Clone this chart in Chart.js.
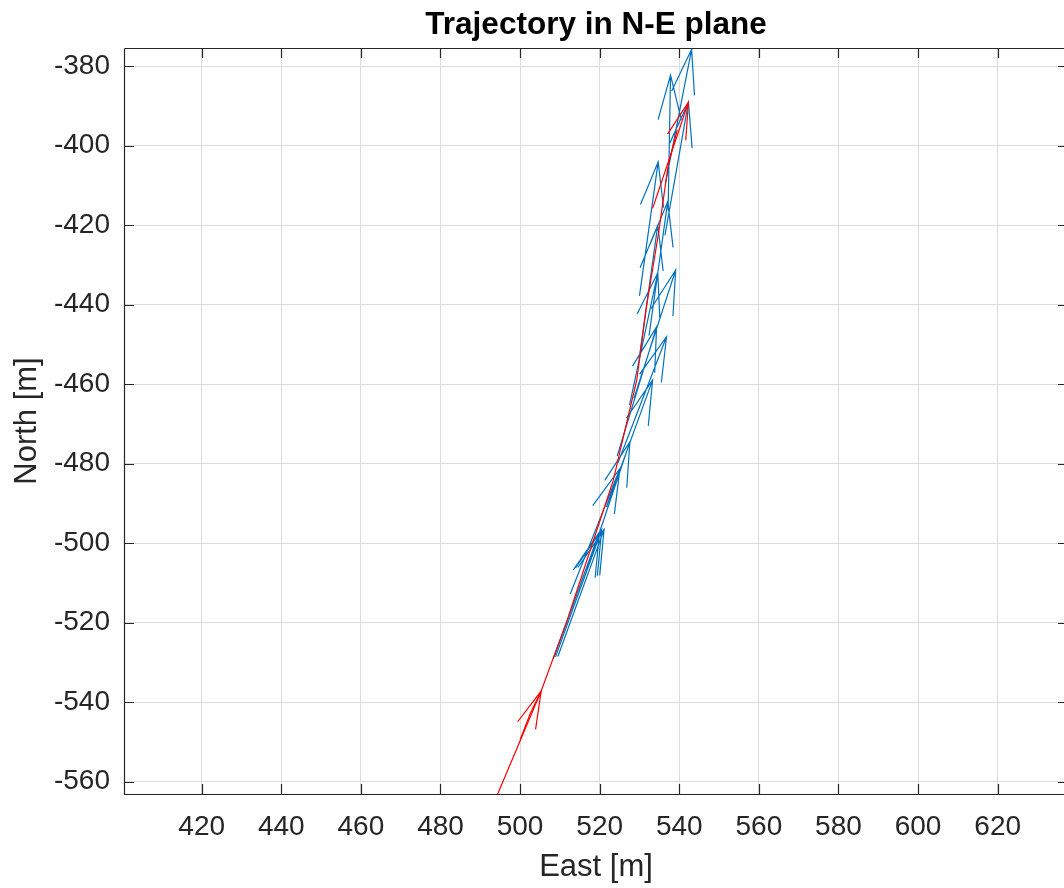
<!DOCTYPE html>
<html>
<head>
<meta charset="utf-8">
<script src="https://cdn.jsdelivr.net/npm/chart.js@4.4.0/dist/chart.umd.min.js"></script>
<style>
html, body { margin: 0; padding: 0; background: #fff; overflow: hidden; }
</style>
</head>
<body>
<canvas id="mycanvas" width="1068" height="888"></canvas>
<script>
// trajectory in the N-E plane (red line)
var trackE = [500.0, 502.5, 505.3, 511.8, 518.4, 523.4, 526.9, 529.3, 531.8, 534.8, 537.2, 539.5];
var trackN = [-549.5, -543.0, -537.2, -519.5, -499.4, -484.3, -469.2, -459.1, -440.2, -422.0, -405.0, -396.0];

// red arrows: start point and components
var redE = [494.2, 533.3];
var redN = [-563.5, -415.8];
var redU = [11.1, 9.0];
var redV = [26.3, 26.7];

// blue arrows: start point and components
var blueE = [536.6, 537.2, 536.4, 530.0, 532.4, 528.6, 527.5, 524.4, 524.6, 521.7, 516.8, 512.6, 508.35, 508.9, 509.5, 529.9];
var blueN = [-409.2, -416.3, -422.6, -437.8, -447.8, -463.6, -465.3, -478.1, -479.8, -490.9, -506.7, -512.8, -529.1, -528.6, -528.5, -453.7];
var blueU = [6.5, 0.6, 5.9, 4.7, 4.7, 10.5, 7.1, 9.9, 12.2, 11.6, 10.8, 12.5, 11.6, 11.6, 11.6, 4.7];
var blueV = [33.4, 34.0, 33.5, 33.7, 33.7, 32.3, 33.3, 32.5, 31.7, 31.9, 32.2, 31.6, 31.9, 31.9, 31.9, 33.7];

var xTicks = [420, 440, 460, 480, 500, 520, 540, 560, 580, 600, 620];
var yTicks = [-560, -540, -520, -500, -480, -460, -440, -420, -400, -380];

var headA = 0.33, headB = 0.26;

function quiver(x, y, u, v) {
	var pts = [];
	for (var i = 0; i < x.length; i++) {
		var tx = x[i] + u[i], ty = y[i] + v[i];
		pts.push({x: x[i], y: y[i]}, {x: tx, y: ty}, {x: null, y: null});
		pts.push({x: tx - headA * (u[i] + headB * v[i]), y: ty - headA * (v[i] - headB * u[i])});
		pts.push({x: tx, y: ty});
		pts.push({x: tx - headA * (u[i] - headB * v[i]), y: ty - headA * (v[i] + headB * u[i])});
		pts.push({x: null, y: null});
	}
	return pts;
}

var track = [];
for (var i in trackE) {
	track.push({x: trackE[i], y: trackN[i]});
}

var tickFont = {family: '"Liberation Sans", Arial, Helvetica, sans-serif', size: 28};
var labelFont = {family: '"Liberation Sans", Arial, Helvetica, sans-serif', size: 31};

// box, inward ticks and title, MATLAB style
var frame = {
	id: 'frame',
	afterDraw: function(chart) {
		var ctx = chart.ctx, a = chart.chartArea;
		var sx = chart.scales.x, sy = chart.scales.y;
		ctx.save();
		ctx.strokeStyle = '#262626';
		ctx.lineWidth = 1.2;
		ctx.beginPath();
		ctx.moveTo(a.left + 0.5, a.top + 0.5);
		ctx.lineTo(a.left + 0.5, a.bottom + 0.5);
		ctx.lineTo(a.right, a.bottom + 0.5);
		ctx.moveTo(a.left + 0.5, a.top + 0.5);
		ctx.lineTo(a.right, a.top + 0.5);
		xTicks.forEach(function(v) {
			var px = Math.round(sx.getPixelForValue(v)) + 0.5;
			ctx.moveTo(px, a.bottom);
			ctx.lineTo(px, a.bottom - 10);
			ctx.moveTo(px, a.top);
			ctx.lineTo(px, a.top + 10);
		});
		yTicks.forEach(function(v) {
			var py = Math.round(sy.getPixelForValue(v)) + 0.5;
			ctx.moveTo(a.left, py);
			ctx.lineTo(a.left + 10, py);
			ctx.moveTo(a.right, py);
			ctx.lineTo(a.right - 10, py);
		});
		ctx.stroke();
		ctx.fillStyle = '#000';
		ctx.font = 'bold 31.5px "Liberation Sans", Arial, Helvetica, sans-serif';
		ctx.textAlign = 'center';
		ctx.textBaseline = 'alphabetic';
		ctx.fillText('Trajectory in N-E plane', (a.left + a.right) / 2, 33.5);
		ctx.restore();
	}
};

var ctx = document.getElementById('mycanvas');

var chart = new Chart(ctx, {
	type: 'scatter',
	data: {
		datasets: [
			{
				label: 'track',
				data: track,
				showLine: true,
				borderColor: '#ff0000',
				borderWidth: 1.2,
				pointRadius: 0,
				spanGaps: false
			},
			{
				label: 'red arrows',
				data: quiver(redE, redN, redU, redV),
				showLine: true,
				borderColor: '#ff0000',
				borderWidth: 1.2,
				pointRadius: 0,
				spanGaps: false
			},
			{
				label: 'blue arrows',
				data: quiver(blueE, blueN, blueU, blueV),
				showLine: true,
				borderColor: '#0072bd',
				borderWidth: 1.2,
				pointRadius: 0,
				spanGaps: false
			}
		]
	},
	options: {
		responsive: false,
		animation: false,
		events: [],
		layout: {padding: {top: 48, right: 0, left: 0, bottom: 0}},
		plugins: {
			legend: {display: false},
			tooltip: {enabled: false},
			title: {display: false}
		},
		scales: {
			x: {
				type: 'linear',
				min: 400.48,
				max: 637.67,
				afterBuildTicks: function(s) { s.ticks = xTicks.map(function(v) { return {value: v}; }); },
				afterFit: function(s) { s.height = 94; },
				grid: {color: '#dcdcdc', lineWidth: 1, drawTicks: false},
				border: {display: false},
				ticks: {font: tickFont, color: '#262626', padding: 16, maxRotation: 0, autoSkip: false},
				title: {display: true, text: 'East [m]', font: labelFont, color: '#262626', padding: {top: 0, bottom: 2}}
			},
			y: {
				type: 'linear',
				min: -563.1,
				max: -375.47,
				afterBuildTicks: function(s) { s.ticks = yTicks.map(function(v) { return {value: v}; }); },
				afterFit: function(s) { s.width = 124; },
				grid: {color: '#dcdcdc', lineWidth: 1, drawTicks: false},
				border: {display: false},
				ticks: {font: tickFont, color: '#262626', padding: 14, autoSkip: false},
				title: {display: true, text: 'North [m]', font: labelFont, color: '#262626', padding: {top: 9, bottom: 0}}
			}
		}
	},
	plugins: [frame]
});
</script>
</body>
</html>
